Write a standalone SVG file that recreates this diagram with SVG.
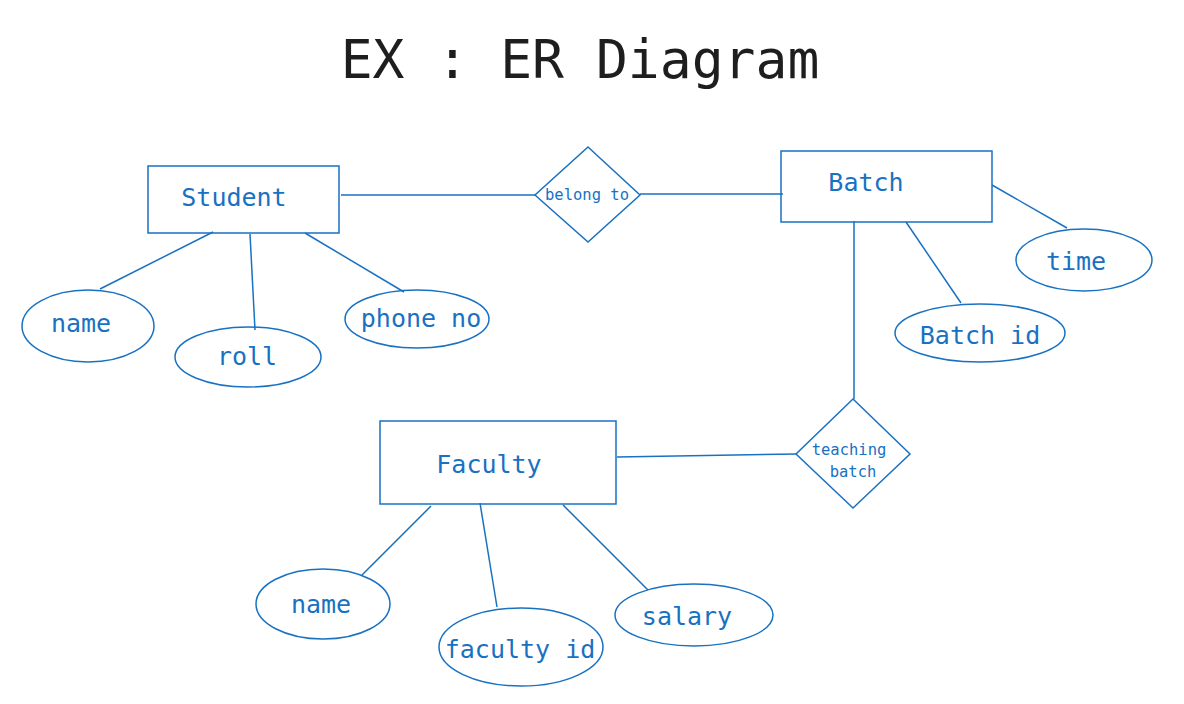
<svg xmlns="http://www.w3.org/2000/svg" width="1184" height="704" viewBox="0 0 1184 704">
<style>
.s{fill:none;stroke:#1971c2;stroke-width:1.5}
.t{fill:#1971c2;font-family:"DejaVu Sans Mono","Liberation Mono",monospace;text-anchor:middle}
.l{font-size:25px}
.r{font-size:15.5px}
</style>
<rect width="1184" height="704" fill="#fff"/>
<text x="580" y="78" font-family="DejaVu Sans Mono,Liberation Mono,monospace" font-size="53" fill="#1e1e1e" text-anchor="middle">EX : ER Diagram</text>
<g id="connectors" class="s">
<line x1="341" y1="195" x2="535" y2="195"/>
<line x1="640" y1="194" x2="783" y2="194"/>
<line x1="213" y1="232" x2="100" y2="289"/>
<line x1="250" y1="234" x2="255" y2="330"/>
<line x1="305" y1="233" x2="404" y2="292"/>
<line x1="992" y1="185" x2="1067" y2="228"/>
<line x1="906" y1="222" x2="961" y2="303"/>
<line x1="854" y1="221" x2="854" y2="399"/>
<line x1="617" y1="457" x2="796" y2="454"/>
<line x1="431" y1="506" x2="362" y2="575"/>
<line x1="480" y1="503" x2="497" y2="607"/>
<line x1="563" y1="505" x2="648" y2="590"/>
</g>
<g id="student"><rect class="s" x="148" y="166" width="191" height="67"/><text class="t l" x="234" y="206">Student</text></g>
<g id="belong-to"><polygon class="s" points="588,147 640,195 588,242 535,195"/><text class="t r" x="587" y="200">belong to</text></g>
<g id="batch"><rect class="s" x="781" y="151" width="211" height="71"/><text class="t l" x="866" y="191">Batch</text></g>
<g id="time"><ellipse class="s" cx="1084" cy="260" rx="68" ry="31"/><text class="t l" x="1076" y="270">time</text></g>
<g id="batch-id"><ellipse class="s" cx="980" cy="333" rx="85" ry="29"/><text class="t l" x="980" y="344">Batch id</text></g>
<g id="teaching-batch"><polygon class="s" points="853,399 910,454 853,508 796,454"/><text class="t r" x="849" y="455">teaching</text><text class="t r" x="853" y="477">batch</text></g>
<g id="faculty"><rect class="s" x="380" y="421" width="236" height="83"/><text class="t l" x="489" y="473">Faculty</text></g>
<g id="student-name"><ellipse class="s" cx="88" cy="326" rx="66" ry="36"/><text class="t l" x="81" y="332">name</text></g>
<g id="roll"><ellipse class="s" cx="248" cy="357" rx="73" ry="30"/><text class="t l" x="247" y="365">roll</text></g>
<g id="phone-no"><ellipse class="s" cx="417" cy="319" rx="72" ry="29"/><text class="t l" x="421" y="327">phone no</text></g>
<g id="faculty-name"><ellipse class="s" cx="323" cy="604" rx="67" ry="35"/><text class="t l" x="321" y="613">name</text></g>
<g id="faculty-id"><ellipse class="s" cx="521" cy="647" rx="82" ry="39"/><text class="t l" x="520" y="658">faculty id</text></g>
<g id="salary"><ellipse class="s" cx="694" cy="615" rx="79" ry="31"/><text class="t l" x="687" y="625">salary</text></g>
</svg>
